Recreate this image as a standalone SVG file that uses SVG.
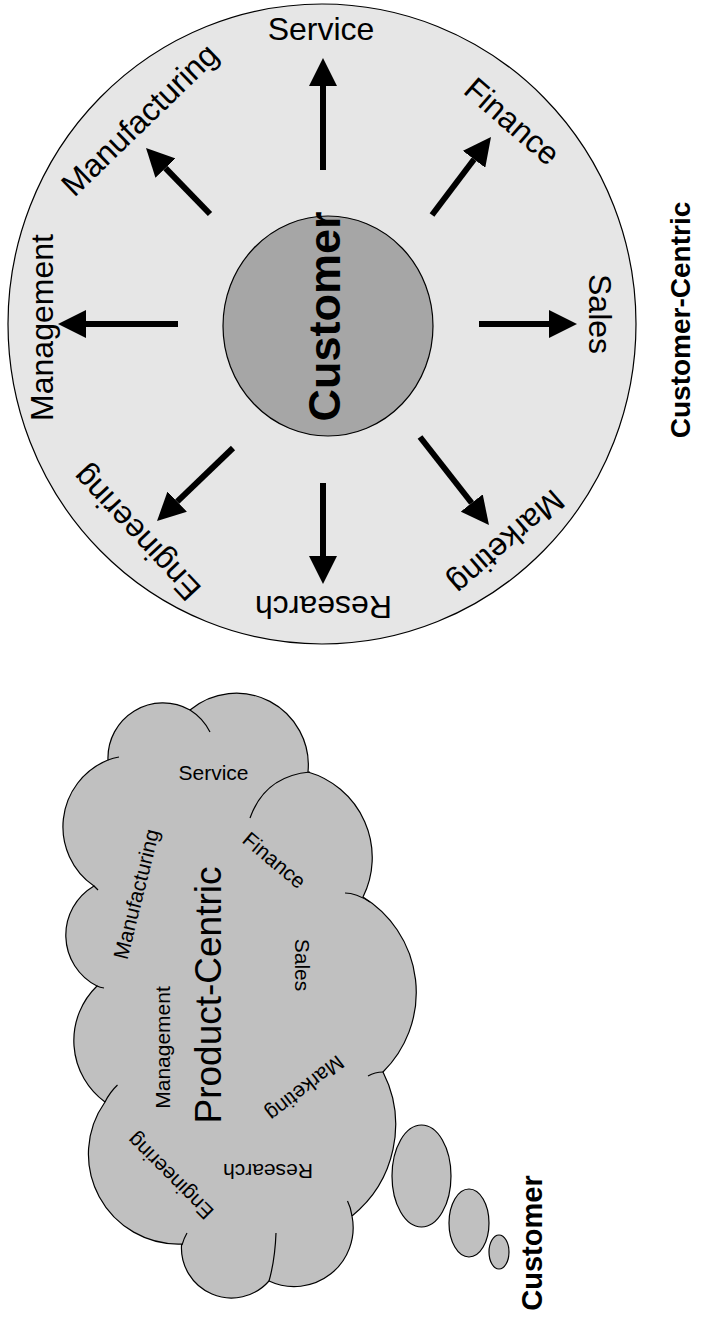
<svg xmlns="http://www.w3.org/2000/svg" width="703" height="1333" viewBox="0 0 703 1333">
<style>
.lbl{font-family:"Liberation Sans",Arial,sans-serif;font-size:32px;fill:#000;text-anchor:middle}
.cl{font-family:"Liberation Sans",Arial,sans-serif;font-size:21px;fill:#000;text-anchor:middle}
.big{font-family:"Liberation Sans",Arial,sans-serif;font-size:37px;fill:#000;text-anchor:middle}
.bold{font-family:"Liberation Sans",Arial,sans-serif;font-weight:bold;fill:#000;text-anchor:middle}
.arrow{stroke:#000;stroke-width:6;fill:none;marker-end:url(#ah)}
.stub{fill:none;stroke:#000;stroke-width:1.2}
</style>
<defs>
<marker id="ah" markerUnits="userSpaceOnUse" markerWidth="28" markerHeight="28" viewBox="0 0 28 28" refX="0" refY="14" orient="auto"><path d="M0,0 L28,14 L0,28 z" fill="#000"/></marker>
</defs>
<rect width="703" height="1333" fill="#fff"/>
<g id="outer-circle"><ellipse cx="322" cy="324" rx="314" ry="320" fill="#e6e6e6" stroke="#000" stroke-width="1.2"/></g>
<g id="customer-core">
<ellipse cx="328" cy="326" rx="105" ry="110" fill="#a6a6a6" stroke="#000" stroke-width="1.2"/>
<text class="bold" font-size="45" transform="translate(323,316.5) rotate(-90)" y="16.5">Customer</text>
</g>
<g id="connectors">
<line class="arrow" x1="323" y1="170" x2="323" y2="86"/>
<line class="arrow" x1="432" y1="215" x2="474.1" y2="159.3"/>
<line class="arrow" x1="479" y1="324" x2="549" y2="324"/>
<line class="arrow" x1="420" y1="437" x2="471.7" y2="503"/>
<line class="arrow" x1="323" y1="483" x2="323" y2="556"/>
<line class="arrow" x1="233" y1="448" x2="177.2" y2="501.6"/>
<line class="arrow" x1="178" y1="324" x2="86" y2="324"/>
<line class="arrow" x1="210" y1="214" x2="165.5" y2="168.1"/>
</g>
<g id="lbl-service"><text class="lbl" x="321" y="40">Service</text></g>
<g id="lbl-finance"><text class="lbl" transform="translate(512.5,121) rotate(41)" y="11.5">Finance</text></g>
<g id="lbl-sales"><text class="lbl" transform="translate(600.5,314) rotate(90)" y="11.5">Sales</text></g>
<g id="lbl-marketing"><text class="lbl" transform="translate(505,540) rotate(139)" y="8.3">Marketing</text></g>
<g id="lbl-research"><text class="lbl" transform="translate(323.5,607.5) rotate(180)" y="11.5">Research</text></g>
<g id="lbl-engineering"><text class="lbl" transform="translate(138.5,531.5) rotate(-133)" y="8.3">Engineering</text></g>
<g id="lbl-management"><text class="lbl" transform="translate(45,327.5) rotate(-90)" y="8.3">Management</text></g>
<g id="lbl-manufacturing"><text class="lbl" transform="translate(141.5,121.5) rotate(-44)" y="8.3">Manufacturing</text></g>
<g id="title-customer-centric"><text class="bold" font-size="28" transform="translate(680,320) rotate(-90)" y="10">Customer-Centric</text></g>

<g id="cloud">
<path d="M190,710 A72,72 0 0 1 308,772 A89,89 0 0 1 363,897 A112,112 0 0 1 383,1072 A117,117 0 0 1 352,1216 A59,59 0 0 1 269,1281 A50,50 0 0 1 181.6,1244 A90,90 0 0 1 105,1102 A76,76 0 0 1 97,986 A57,57 0 0 1 94,886 A72,72 0 0 1 108,760 A55,55 0 0 1 190,710 Z" fill="#c0c0c0" stroke="#000" stroke-width="1.2"/>
<path class="stub" d="M190,710 A55,55 0 0 1 210,732"/>
<path class="stub" d="M250,818 Q265,776 310,772"/>
<path class="stub" d="M345,893 Q356,893 370,902"/>
<path class="stub" d="M368,1076 Q375,1072 383,1072"/>
<path class="stub" d="M347.5,1201 Q351,1208 352,1216"/>
<path class="stub" d="M276,1233 Q275,1260 269,1281"/>
<path class="stub" d="M182,1245 Q184,1238 187,1233"/>
<path class="stub" d="M105,1102 Q110,1092 117.5,1085"/>
<path class="stub" d="M97,986 Q100,987.5 104,988"/>
<path class="stub" d="M94,886 Q96,888 98,890"/>
<path class="stub" d="M108,760 Q113,758 119,757"/>
<text class="cl" x="213.5" y="780">Service</text>
<text class="cl" transform="translate(274.5,860) rotate(40)" y="7.6">Finance</text>
<text class="cl" transform="translate(138,894.5) rotate(-76)" y="5.5">Manufacturing</text>
<text class="cl" transform="translate(303,965) rotate(90)" y="7.6">Sales</text>
<text class="cl" transform="translate(304,1087) rotate(142)" y="5.5">Marketing</text>
<text class="cl" transform="translate(268,1172) rotate(180)" y="7.6">Research</text>
<text class="cl" transform="translate(171.5,1175) rotate(-135)" y="5.5">Engineering</text>
<text class="cl" transform="translate(164,1047.5) rotate(-90)" y="5.5">Management</text>
<text class="big" transform="translate(207.5,995) rotate(-90)" y="13.3">Product-Centric</text>
</g>
<g id="bubbles">
<ellipse cx="421.5" cy="1176" rx="29.5" ry="51" fill="#c0c0c0" stroke="#000" stroke-width="1.2"/>
<ellipse cx="469" cy="1223" rx="20" ry="34" fill="#c0c0c0" stroke="#000" stroke-width="1.2"/>
<ellipse cx="499" cy="1252" rx="10" ry="17" fill="#c0c0c0" stroke="#000" stroke-width="1.2"/>
</g>
<g id="lbl-customer"><text class="bold" font-size="29" transform="translate(531,1243) rotate(-90)" y="10.5">Customer</text></g>
</svg>
